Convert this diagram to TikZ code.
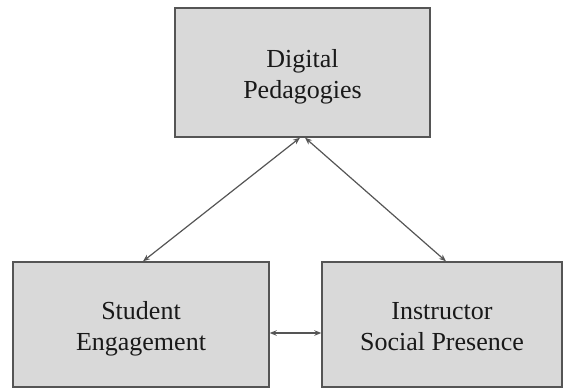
\documentclass[tikz,border=0pt]{standalone}
\usepackage{fontspec}
\setmainfont{Liberation Serif}
\usetikzlibrary{arrows.meta}
\definecolor{boxfill}{HTML}{D9D9D9}
\definecolor{edge}{HTML}{555555}
\begin{document}
\begin{tikzpicture}[x=1pt,y=-1pt,
  box/.style={draw=edge, fill=boxfill, line width=1.4pt, inner sep=0pt},
  txt/.style={align=center, font=\fontsize{26}{31}\selectfont, text=black!90},
  link/.style={draw=edge, line width=1.2pt, {Stealth[length=7pt,width=5.5pt]}-{Stealth[length=7pt,width=5.5pt]}}]
\useasboundingbox (0,0) rectangle (565,389);
\node[box, minimum width=255pt, minimum height=129pt] (dp) at (302.5,72.5) {};
\node[box, minimum width=256pt, minimum height=125pt] (se) at (141,324.5) {};
\node[box, minimum width=240pt, minimum height=125pt] (isp) at (442,324.5) {};
\node[txt] (dpt) at ([yshift=-4pt]dp.center) {Digital\\Pedagogies};
\node[txt] (set) at ([yshift=-4.5pt]se.center) {Student\\Engagement};
\node[txt] (ispt) at ([yshift=-2.5pt]isp.center) {Instructor\\Social Presence};
\draw[link] ([xshift=-2.5pt]dp.south) -- ([xshift=2pt]se.north);
\draw[link] ([xshift=2.5pt]dp.south) -- ([xshift=4pt]isp.north);
\draw[link] ([yshift=-8.5pt]se.east) -- ([yshift=-8.5pt]isp.west);
\end{tikzpicture}
\end{document}
